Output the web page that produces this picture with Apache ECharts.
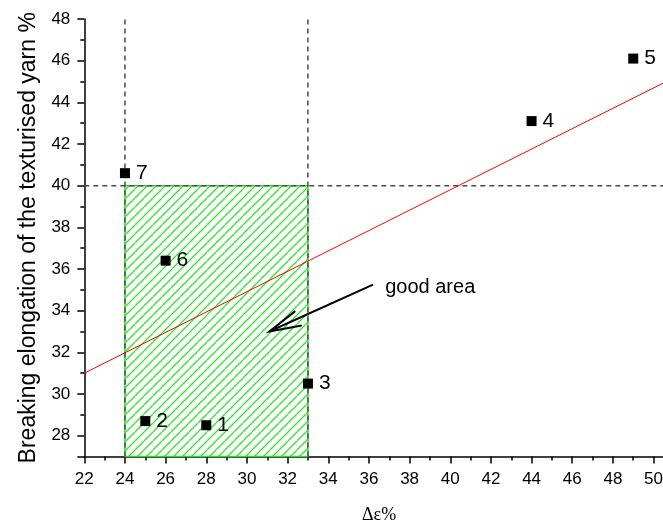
<!DOCTYPE html>
<html>
<head>
<meta charset="utf-8">
<script src="https://cdn.jsdelivr.net/npm/echarts@6/dist/echarts.min.js"></script>
<style>
  html, body { margin: 0; padding: 0; background: #fff; }
  #chart { width: 663px; height: 520px; }
</style>
</head>
<body>
<div id="chart"></div>
<script>
// Samples: Δε% against breaking elongation of the texturised yarn
const pointX = [28, 25, 33, 44, 49, 26, 24];
const pointY = [28.5, 28.7, 30.5, 43.1, 46.1, 36.4, 40.6];
const pointLabels = ['1', '2', '3', '4', '5', '6', '7'];

// Linear trend line (two end points)
const fitX = [22, 51];
const fitY = [31.0, 45.18];

// Acceptable region and its guide lines
const zoneX = [24, 33];
const zoneY = [27, 40];
const guideXs = [24, 33];
const guideY = 40;

// Annotation arrow and its text
const arrowTail = [36.2, 35.25];
const arrowTip = [31.1, 33.0];
const noteText = 'good area';
const notePos = [36.8, 35.1];

// Axis ranges
const xMin = 22, xMax = 51, xStep = 2;
const yMin = 27, yMax = 48, yStep = 2;

const FONT = '"Liberation Sans", Arial, sans-serif';

// Diagonal hatch tile for the region fill
function makeHatch() {
  const s = 9;
  const c = document.createElement('canvas');
  c.width = s; c.height = s;
  const g = c.getContext('2d');
  g.strokeStyle = '#2ee62e';
  g.lineWidth = 1.3;
  for (const off of [-s, 0, s]) {
    g.beginPath();
    g.moveTo(off, s);
    g.lineTo(off + s, 0);
    g.stroke();
  }
  return c;
}
const hatch = makeHatch();

const chart = echarts.init(document.getElementById('chart'), null, { renderer: 'canvas' });

const guideSeries = [];
guideXs.forEach(function (gx) {
  guideSeries.push({
    type: 'line', data: [[gx, yMin], [gx, yMax]], symbol: 'none', z: 3,
    lineStyle: { color: '#4a4a4a', width: 1.5, type: [5, 4] }, silent: true
  });
});
guideSeries.push({
  type: 'line', data: [[xMin, guideY], [xMax, guideY]], symbol: 'none', z: 3,
  lineStyle: { color: '#4a4a4a', width: 1.5, type: [5, 4] }, silent: true
});

const option = {
  animation: false,
  backgroundColor: '#fff',
  grid: {
    left: 84.3, top: 19, width: 589.6, height: 437.5,
    containLabel: false, outerBoundsMode: 'none'
  },
  xAxis: {
    type: 'value', min: xMin, max: xMax, interval: xStep,
    name: 'Δε%', nameLocation: 'middle', nameGap: 50,
    nameTextStyle: { fontFamily: '"Liberation Serif", "Times New Roman", serif', fontSize: 18, color: '#000' },
    axisLine: { show: true, onZero: false, lineStyle: { color: '#000', width: 1.5 } },
    axisTick: { show: true, inside: false, length: 7, lineStyle: { color: '#000', width: 1.5 } },
    minorTick: { show: true, splitNumber: 2, length: 4, lineStyle: { color: '#000', width: 1.5 } },
    axisLabel: { fontFamily: FONT, fontSize: 17, color: '#000', margin: 14 },
    splitLine: { show: false }
  },
  yAxis: {
    type: 'value', min: yMin, max: yMax, minInterval: yStep, maxInterval: yStep, splitNumber: 10,
    name: 'Breaking elongation of the texturised yarn %', nameLocation: 'middle', nameGap: 44,
    nameTextStyle: { fontFamily: FONT, fontSize: 23, color: '#000' },
    axisLine: { show: true, onZero: false, lineStyle: { color: '#000', width: 1.5 } },
    axisTick: { show: true, inside: false, length: 7, lineStyle: { color: '#000', width: 1.5 } },
    minorTick: { show: true, splitNumber: 2, length: 4, lineStyle: { color: '#000', width: 1.5 } },
    axisLabel: {
      fontFamily: FONT, fontSize: 17, color: '#000', margin: 14,
      formatter: function (v) { return v % yStep === 0 ? String(v) : ''; }
    },
    splitLine: { show: false }
  },
  series: [
    {
      type: 'custom', z: 1, silent: true,
      data: [[zoneX[0], zoneY[0], zoneX[1], zoneY[1]]],
      encode: { x: [0, 2], y: [1, 3] },
      renderItem: function (params, api) {
        const p0 = api.coord([api.value(0), api.value(3)]);
        const p1 = api.coord([api.value(2), api.value(1)]);
        return {
          type: 'rect',
          shape: { x: p0[0], y: p0[1], width: p1[0] - p0[0], height: p1[1] - p0[1] },
          style: {
            fill: { type: 'pattern', image: hatch, repeat: 'repeat' },
            stroke: '#22dd22', lineWidth: 1.5
          }
        };
      }
    }
  ].concat(guideSeries).concat([
    {
      type: 'line', data: fitX.map(function (x, i) { return [x, fitY[i]]; }),
      symbol: 'none', z: 4, silent: true,
      lineStyle: { color: '#ff0000', width: 1 }
    },
    {
      type: 'custom', z: 5, silent: true,
      data: [[arrowTail[0], arrowTail[1], arrowTip[0], arrowTip[1]]],
      encode: { x: [0, 2], y: [1, 3] },
      renderItem: function (params, api) {
        const a = api.coord([api.value(0), api.value(1)]);
        const b = api.coord([api.value(2), api.value(3)]);
        const ang = Math.atan2(a[1] - b[1], a[0] - b[0]);
        const L = 33, spread = 0.24;
        const h1 = [b[0] + L * Math.cos(ang - spread), b[1] + L * Math.sin(ang - spread)];
        const h2 = [b[0] + L * Math.cos(ang + spread), b[1] + L * Math.sin(ang + spread)];
        return {
          type: 'group',
          children: [
            { type: 'line', shape: { x1: a[0], y1: a[1], x2: b[0], y2: b[1] },
              style: { stroke: '#000', lineWidth: 2 } },
            { type: 'polyline', shape: { points: [h1, b, h2] },
              style: { stroke: '#000', lineWidth: 2, fill: null } }
          ]
        };
      }
    },
    {
      type: 'scatter', z: 6, silent: true,
      data: [notePos], symbolSize: 0,
      itemStyle: { opacity: 1 },
      label: {
        show: true, position: 'right', distance: 0, formatter: noteText,
        fontFamily: FONT, fontSize: 20, color: '#000', opacity: 1
      }
    },
    {
      type: 'scatter', z: 7, silent: true,
      symbol: 'rect', symbolSize: 10,
      itemStyle: { color: '#000', opacity: 1 },
      data: pointX.map(function (x, i) { return [x, pointY[i]]; }),
      label: {
        show: true, position: 'right', distance: 6,
        fontFamily: FONT, fontSize: 21, color: '#000',
        formatter: function (p) { return pointLabels[p.dataIndex]; }
      }
    }
  ])
};

chart.setOption(option);
</script>
</body>
</html>
